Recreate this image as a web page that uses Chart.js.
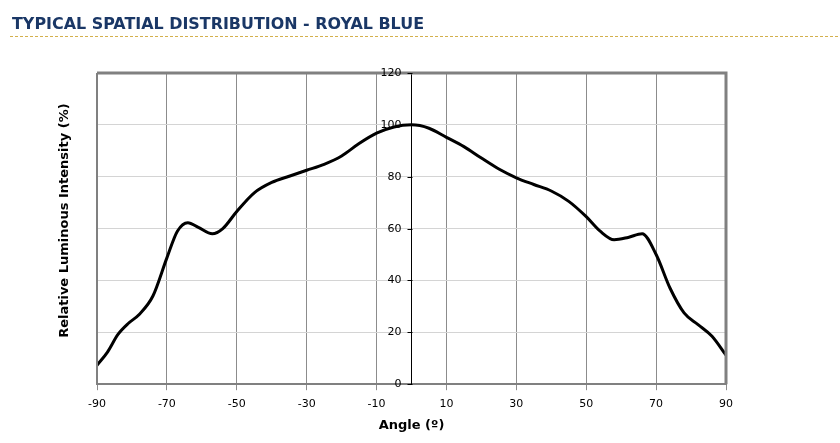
<!DOCTYPE html>
<html>
<head>
<meta charset="utf-8">
<script src="https://cdn.jsdelivr.net/npm/chart.js@4/dist/chart.umd.min.js"></script>
<style>
html,body{margin:0;padding:0;background:#fff;}
#wrap{position:relative;width:840px;height:443px;}
</style>
</head>
<body>
<div id="wrap"><canvas id="c" width="840" height="443"></canvas></div>
<script>
const chartTitle = "TYPICAL SPATIAL DISTRIBUTION - ROYAL BLUE";
const xAxisTitle = "Angle (º)";
const yAxisTitle = "Relative Luminous Intensity (%)";
const angles = [-90,-87,-84,-81,-78,-74,-70,-67,-64,-61,-57,-54,-50,-45,-40,-35,-30,-25,-20,-15,-10,-5,0,5,10,15,20,25,30,35,40,45,50,54,58,62,66,70,74,78,82,86,90];
const intensity = [7.3,12.4,19.2,23.5,26.8,34,48.7,59,62.3,60.5,58,60,66.6,73.8,77.8,80.2,82.5,84.8,88,92.8,96.8,99.2,100,98.7,95.2,91.6,87.2,83,79.6,77,74.5,70.5,64.6,59,55.7,56.6,58,50,37,27.5,23,18.5,11.2];
const xTicks = [-90,-70,-50,-30,-10,10,30,50,70,90];
const yTicks = [0,20,40,60,80,100,120];

const points = angles.map((a,i)=>({x:a,y:intensity[i]}));

const decor = {
  id:'decor',
  beforeDraw(chart){
    const ctx = chart.ctx;
    ctx.save();
    ctx.fillStyle = '#1a3766';
    ctx.font = 'bold 15.5px "DejaVu Sans"';
    ctx.textBaseline = 'alphabetic';
    ctx.textAlign = 'left';
    const w = ctx.measureText(chartTitle).width;
    ctx.translate(12, 29);
    ctx.scale(412 / w, 1);
    ctx.fillText(chartTitle, 0, 0);
    ctx.restore();
    ctx.save();
    ctx.strokeStyle = '#d4b04c';
    ctx.lineWidth = 1;
    ctx.setLineDash([3,2]);
    ctx.beginPath();
    ctx.moveTo(10,36.5);
    ctx.lineTo(840,36.5);
    ctx.stroke();
    ctx.restore();
  },
  afterDatasetsDraw(chart){
    const {ctx, chartArea:a, scales} = chart;
    ctx.save();
    ctx.strokeStyle = '#808080';
    ctx.lineWidth = 3;
    ctx.beginPath();
    ctx.moveTo(a.left, a.top);
    ctx.lineTo(a.right, a.top);
    ctx.lineTo(a.right, a.bottom);
    ctx.stroke();
    ctx.lineWidth = 2;
    ctx.beginPath();
    ctx.moveTo(a.left, a.top);
    ctx.lineTo(a.left, a.bottom);
    ctx.stroke();
    ctx.restore();
    const x0 = Math.round(scales.x.getPixelForValue(0)) + 0.5;
    ctx.save();
    ctx.strokeStyle = '#000';
    ctx.lineWidth = 1;
    ctx.fillStyle = '#000';
    ctx.font = '11px "DejaVu Sans"';
    ctx.textAlign = 'right';
    ctx.textBaseline = 'middle';
    yTicks.forEach(v=>{
      const y = Math.round(scales.y.getPixelForValue(v)) + 0.5;
      ctx.beginPath();
      ctx.moveTo(x0 - 5, y);
      ctx.lineTo(x0, y);
      ctx.stroke();
      ctx.fillText(String(v), x0 - 11, y);
    });
    ctx.restore();
  },
  afterDraw(chart){
    const {ctx, chartArea:a} = chart;
    ctx.save();
    ctx.translate(65, (a.top+a.bottom)/2 - 8);
    ctx.rotate(-Math.PI/2);
    ctx.fillStyle='#000';
    ctx.font='bold 13px "DejaVu Sans"';
    ctx.textAlign='center';
    ctx.textBaseline='middle';
    ctx.fillText(yAxisTitle,0,0);
    ctx.restore();
  }
};

new Chart(document.getElementById('c'), {
  type:'line',
  data:{datasets:[{
    data:points,
    borderColor:'#000',
    borderWidth:3,
    pointRadius:0,
    tension:0.4,
    cubicInterpolationMode:'monotone',
    fill:false
  }]},
  options:{
    responsive:false,
    animation:false,
    layout:{padding:{left:97,right:114,top:73,bottom:10}},
    plugins:{
      legend:{display:false},
      tooltip:{enabled:false},
      title:{display:false}
    },
    scales:{
      x:{
        type:'linear',
        min:-90,max:90,
        afterBuildTicks(s){ s.ticks = xTicks.map(v=>({value:v})); },
        grid:{color:'#8c8c8c',lineWidth:1,drawTicks:true,tickLength:6,tickColor:'#8c8c8c'},
        border:{display:true,color:'#808080',width:2},
        ticks:{color:'#000',font:{family:'"DejaVu Sans"',size:11},padding:7,maxRotation:0,autoSkip:false},
        title:{display:true,text:xAxisTitle,color:'#000',font:{family:'"DejaVu Sans"',size:13,weight:'bold'},padding:{top:0,bottom:0}}
      },
      y:{
        type:'linear',
        position:{x:0},
        min:0,max:120,
        afterBuildTicks(s){ s.ticks = yTicks.map(v=>({value:v})); },
        grid:{color:'#d4d4d4',lineWidth:1,drawTicks:false},
        border:{display:true,color:'#000',width:1},
        ticks:{display:false},
        title:{display:false}
      }
    }
  },
  plugins:[decor]
});
</script>
</body>
</html>
